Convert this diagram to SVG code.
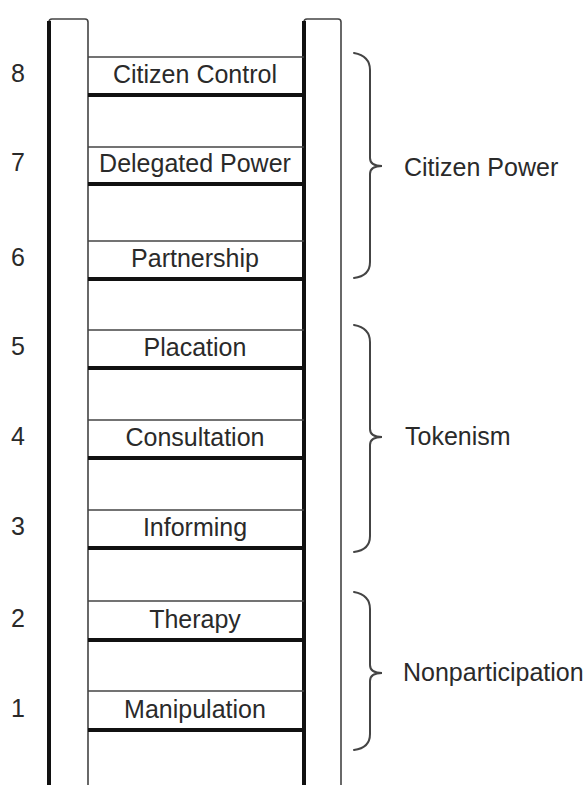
<svg xmlns="http://www.w3.org/2000/svg" width="588" height="785" viewBox="0 0 588 785">
<style>
.thick{stroke:#111;stroke-width:4;fill:none}
.thin{stroke:#444;stroke-width:1.6;fill:none}
.brace{stroke:#444;stroke-width:2;fill:none;stroke-linecap:round}
text{font-family:"Liberation Sans",Arial,sans-serif;font-size:25px;fill:#2a2a2a}
.c{text-anchor:middle}
</style>
<rect width="588" height="785" fill="#fff"/>
<g id="left-rail">
<path class="thin" d="M49,785 V22 Q49,19 52,19 H85 Q88,19 88,22 V785"/>
<path class="thick" d="M49,785 V21"/>
</g>
<g id="right-rail">
<path class="thin" d="M304,785 V22 Q304,19 307,19 H338 Q341,19 341,22 V785"/>
<path class="thick" d="M304,785 V21"/>
</g>
<g id="rung8"><path class="thin" d="M88,57 H304"/><path class="thick" d="M88,95 H304"/><text class="c" x="195" y="83">Citizen Control</text><text class="c" x="18" y="82">8</text></g>
<g id="rung7"><path class="thin" d="M88,147 H304"/><path class="thick" d="M88,184 H304"/><text class="c" x="195" y="172">Delegated Power</text><text class="c" x="18" y="171">7</text></g>
<g id="rung6"><path class="thin" d="M88,241 H304"/><path class="thick" d="M88,279 H304"/><text class="c" x="195" y="267">Partnership</text><text class="c" x="18" y="266">6</text></g>
<g id="rung5"><path class="thin" d="M88,330 H304"/><path class="thick" d="M88,368 H304"/><text class="c" x="195" y="356">Placation</text><text class="c" x="18" y="355">5</text></g>
<g id="rung4"><path class="thin" d="M88,420 H304"/><path class="thick" d="M88,458 H304"/><text class="c" x="195" y="446">Consultation</text><text class="c" x="18" y="445">4</text></g>
<g id="rung3"><path class="thin" d="M88,510 H304"/><path class="thick" d="M88,548 H304"/><text class="c" x="195" y="536">Informing</text><text class="c" x="18" y="535">3</text></g>
<g id="rung2"><path class="thin" d="M88,601 H304"/><path class="thick" d="M88,640 H304"/><text class="c" x="195" y="628">Therapy</text><text class="c" x="18" y="627">2</text></g>
<g id="rung1"><path class="thin" d="M88,691 H304"/><path class="thick" d="M88,730 H304"/><text class="c" x="195" y="718">Manipulation</text><text class="c" x="18" y="717">1</text></g>
<g id="connectors">
<path class="brace" d="M354,53 Q370,56 370,70 V158 Q370,166 382,166 Q370,166 370,174 V262 Q370,276 354,278"/>
<path class="brace" d="M354,325 Q370,328 370,342 V429 Q370,437 382,437 Q370,437 370,445 V536 Q370,550 354,552"/>
<path class="brace" d="M354,592 Q370,595 370,609 V665 Q370,673 382,673 Q370,673 370,681 V734 Q370,748 354,750"/>
</g>
<g id="group-citizen-power"><text x="404" y="176">Citizen Power</text></g>
<g id="group-tokenism"><text x="405" y="445">Tokenism</text></g>
<g id="group-nonparticipation"><text x="403" y="681">Nonparticipation</text></g>
</svg>
